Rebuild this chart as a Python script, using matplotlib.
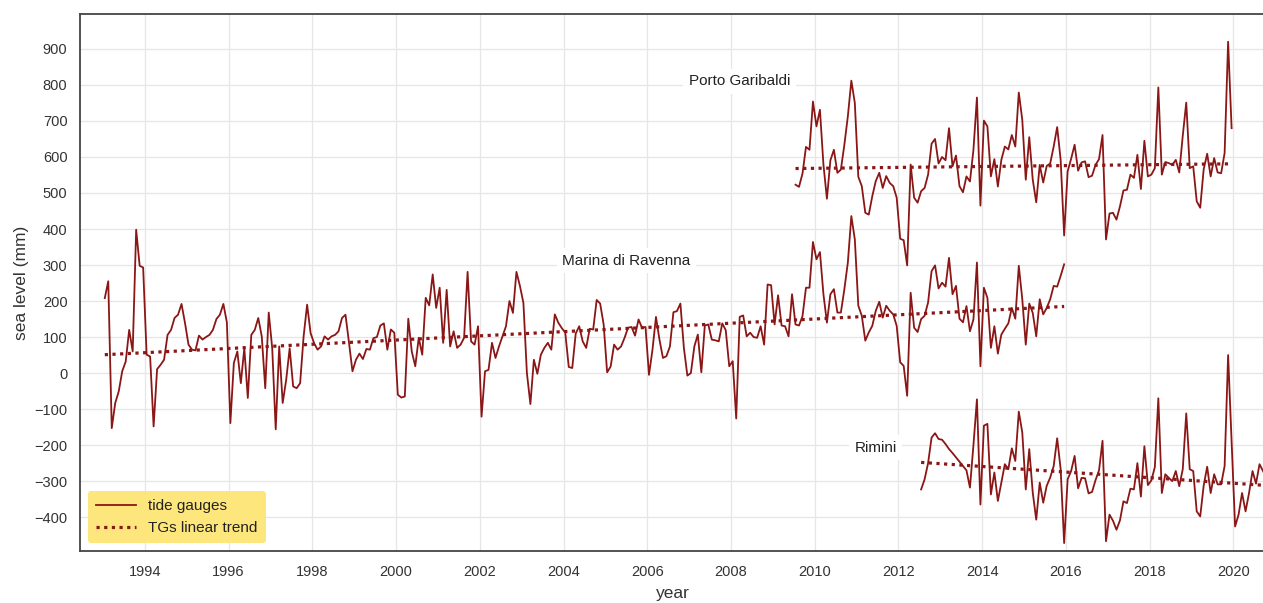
import numpy as np
import matplotlib
matplotlib.use("Agg")
import matplotlib.pyplot as plt

# ---------------- data (monthly mean sea level, mm) ----------------
ravenna_start = (1993, 1)
ravenna = [208, 255, -153, -83, -51, 5, 32, 120, 60, 398, 298, 293,
           51, 46, -148, 11, 23, 37, 106, 120, 153, 162, 192, 139,
           79, 65, 63, 104, 93, 100, 106, 120, 150, 162, 192, 141,
           -139, 28, 60, -28, 69, -69, 106, 120, 153, 102, -42, 168,
           69, -156, 74, -83, -19, 69, -37, -42, -28, 102, 190, 111,
           83, 65, 74, 102, 93, 102, 106, 116, 153, 162, 85, 5,
           37, 54, 39, 67, 65, 97, 100, 132, 138, 65, 121, 112,
           -60, -68, -65, 151, 60, 19, 98, 51, 209, 188, 274, 181,
           237, 84, 231, 74, 116, 70, 79, 98, 281, 88, 79, 130,
           -121, 5, 9, 84, 42, 74, 102, 130, 200, 167, 281, 242,
           195, 0, -86, 37, -2, 51, 70, 84, 65, 163, 140, 125,
           112, 17, 14, 110, 130, 88, 70, 123, 121, 203, 193, 135,
           2, 18, 79, 65, 74, 98, 126, 128, 104, 149, 126, 128,
           -5, 65, 156, 93, 42, 47, 74, 169, 172, 193, 70, -7,
           0, 74, 107, 2, 132, 135, 93, 91, 88, 138, 119, 19,
           33, -126, 156, 160, 102, 112, 100, 98, 130, 79, 246, 244,
           135, 216, 132, 130, 102, 219, 135, 132, 158, 237, 237, 364,
           316, 336, 219, 140, 219, 233, 168, 168, 233, 307, 436, 371,
           187, 159, 90, 113, 131, 173, 198, 154, 187, 173, 163, 131,
           30, 20, -63, 223, 126, 114, 150, 159, 196, 283, 299, 235,
           251, 240, 320, 219, 242, 151, 141, 186, 116, 149, 307, 19,
           237, 209, 70, 130, 54, 107, 123, 138, 181, 151, 298, 205,
           79, 193, 167, 102, 205, 163, 181, 205, 242, 240, 270, 302]

garibaldi_start = (2009, 7)
garibaldi = [523, 517, 554, 628, 620, 754, 685, 731, 579, 484, 591, 620,
             556, 565, 634, 713, 812, 750, 545, 519, 445, 440, 491, 533,
             556, 514, 547, 528, 519, 487, 373, 369, 299, 579, 487, 473,
             505, 514, 551, 637, 650, 582, 600, 591, 680, 574, 604, 519,
             502, 546, 532, 620, 765, 465, 701, 685, 546, 594, 518, 592,
             629, 621, 661, 629, 779, 703, 537, 655, 537, 474, 578, 529,
             575, 582, 629, 683, 592, 382, 560, 595, 634, 562, 585, 588,
             544, 548, 578, 594, 661, 371, 443, 445, 426, 463, 507, 509,
             551, 542, 606, 511, 645, 546, 551, 569, 793, 551, 586, 583,
             578, 592, 557, 659, 751, 569, 574, 477, 459, 566, 609, 546,
             597, 557, 555, 611, 920, 680]

rimini_start = (2012, 7)
rimini = [-323, -295, -250, -179, -167, -183, -185, -197, -211, -222, -234, -246,
          -258, -270, -318, -200, -73, -365, -146, -141, -337, -276, -355, -304,
          -253, -267, -209, -244, -107, -165, -323, -211, -332, -407, -304, -360,
          -313, -290, -258, -181, -267, -472, -295, -272, -230, -320, -291, -292,
          -334, -330, -297, -270, -188, -467, -393, -410, -435, -409, -356, -361,
          -321, -323, -250, -343, -203, -311, -298, -261, -70, -333, -281, -291,
          -300, -272, -314, -267, -112, -267, -272, -384, -398, -312, -260, -333,
          -281, -309, -309, -258, 50, -190, -426, -393, -333, -384, -333, -272,
          -307, -253, -272, -290]

# linear trend values at the first and last month of each record (mm)
ravenna_trend = [51, 185]
garibaldi_trend = [568, 581]
rimini_trend = [-248, -312]

station_names = ["Porto Garibaldi", "Marina di Ravenna", "Rimini"]
label_pos_year = [2008.2, 2005.5, 2011.45]
label_pos_value = [810, 312, -207]

x_ticks = list(range(1994, 2021, 2))
y_ticks = list(range(-400, 901, 100))

# ---------------- style ----------------
plt.rcParams["font.family"] = ["Liberation Sans", "DejaVu Sans"]
LINE = "#8b1616"
TXT = "#333333"


def month_axis(start, n):
    y, m = start
    return y + (m - 1 + 0.5 + np.arange(n)) / 12.0


fig = plt.figure(figsize=(12.63, 6.03), dpi=100)
ax = fig.add_axes([80 / 1263, 52 / 603, 1186 / 1263, 537 / 603])

series = [(ravenna_start, ravenna, ravenna_trend),
          (garibaldi_start, garibaldi, garibaldi_trend),
          (rimini_start, rimini, rimini_trend)]

handles = []
for i, (start, vals, tr) in enumerate(series):
    t = month_axis(start, len(vals))
    l1, = ax.plot(t, vals, color=LINE, lw=1.3, zorder=3,
                  label="tide gauges" if i == 0 else None)
    l2, = ax.plot([t[0], t[-1]], tr, color=LINE, lw=2.3,
                  linestyle=(0, (1, 1.4)), zorder=3,
                  label="TGs linear trend" if i == 0 else None)
    if i == 0:
        handles = [l1, l2]

for name, xv, yv in zip(station_names, label_pos_year, label_pos_value):
    ax.text(xv, yv, name, fontsize=11, color="#222222", ha="center",
            va="center", zorder=2,
            bbox=dict(facecolor="white", edgecolor="none", pad=4))

ax.set_xlim(1992.45, 2020.78)
ax.set_ylim(-494, 997)
ax.set_xticks(x_ticks)
ax.set_yticks(y_ticks)
ax.grid(True, color="#e6e6e6", lw=0.9, zorder=0)
ax.set_axisbelow(True)
ax.tick_params(axis="both", length=0, labelsize=10.5, labelcolor=TXT)
ax.tick_params(axis="x", pad=10)
ax.tick_params(axis="y", pad=9)

for s in ["left", "top", "bottom"]:
    ax.spines[s].set_color("#444444")
    ax.spines[s].set_linewidth(1.3)
ax.spines["right"].set_visible(False)

ax.set_ylabel("sea level (mm)", fontsize=12.5, color=TXT, labelpad=4)
ax.set_xlabel("year", fontsize=12.5, color=TXT, labelpad=5)

leg = ax.legend(handles=handles, loc="lower left", fontsize=11,
                facecolor="#fde67c", edgecolor="none", framealpha=1,
                handlelength=2.6, borderaxespad=0.5, labelspacing=0.5,
                borderpad=0.55)
for t in leg.get_texts():
    t.set_color("#222222")

fig.savefig("out.png", dpi=100)
